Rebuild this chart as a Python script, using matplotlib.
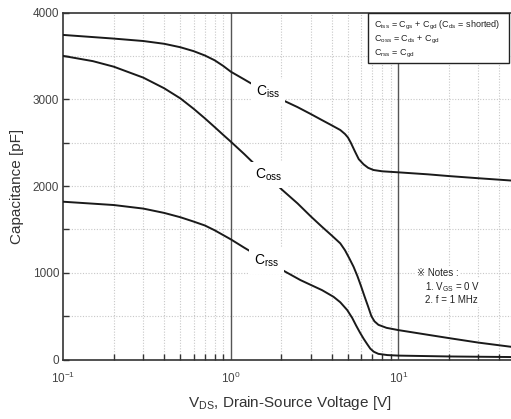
import matplotlib
matplotlib.use("Agg")
import matplotlib.pyplot as plt
from matplotlib.patches import Rectangle
from matplotlib.ticker import FixedLocator, NullFormatter

plt.rcParams['font.family'] = ['Liberation Sans', 'DejaVu Sans']
plt.rcParams['mathtext.default'] = 'regular'

# Capacitance vs. drain-source voltage
ciss_v = [0.1, 0.2, 0.3, 0.4, 0.5, 0.6, 0.7, 0.8, 0.9, 1.0, 1.2, 1.37, 2.03, 2.5, 3.0, 3.5,
          4.0, 4.5, 4.8, 5.0, 5.2, 5.5, 5.8, 6.2, 6.6, 7.1, 8.0, 10, 15, 20, 30, 50]
ciss_c = [3742, 3700, 3672, 3640, 3600, 3555, 3505, 3450, 3385, 3318, 3230, 3165, 2992, 2910, 2830, 2760,
          2700, 2646, 2600, 2560, 2500, 2400, 2310, 2250, 2210, 2185, 2170, 2158, 2135, 2115, 2090, 2060]

coss_v = [0.1, 0.15, 0.2, 0.3, 0.4, 0.5, 0.6, 0.7, 0.8, 0.9, 1.0, 1.2, 1.37, 2.03, 2.5, 3.0, 3.5,
          4.0, 4.5, 4.8, 5.1, 5.4, 5.7, 6.0, 6.3, 6.6, 6.9, 7.2, 7.6, 8.5, 10, 15, 20, 30, 50]
coss_c = [3500, 3440, 3376, 3250, 3127, 3010, 2890, 2780, 2680, 2590, 2511, 2370, 2262, 1954, 1800, 1650, 1530,
          1430, 1339, 1260, 1165, 1070, 960, 840, 720, 610, 500, 440, 400, 365, 339, 285, 247, 195, 140]

crss_v = [0.1, 0.2, 0.3, 0.4, 0.5, 0.6, 0.7, 0.8, 1.0, 1.2, 1.37, 2.03, 2.6, 3.0, 3.5, 4.1, 4.5,
          4.95, 5.3, 5.6, 5.9, 6.2, 6.5, 6.8, 7.14, 7.6, 8.6, 10, 20, 50]
crss_c = [1819, 1781, 1740, 1690, 1640, 1590, 1545, 1490, 1385, 1290, 1224, 1031, 916, 860, 800, 723, 660,
          570, 480, 390, 310, 240, 180, 125, 89, 65, 51, 45, 35, 28]

# curve labels: (text, voltage, capacitance)
curve_labels = [("C$_{iss}$", 1.66, 3084), ("C$_{oss}$", 1.68, 2127), ("C$_{rss}$", 1.63, 1135)]

legend_lines = ["C$_{iss}$ = C$_{gs}$ + C$_{gd}$ (C$_{ds}$ = shorted)",
                "C$_{oss}$ = C$_{ds}$ + C$_{gd}$",
                "C$_{rss}$ = C$_{gd}$"]
notes_lines = ["\u203b Notes :", "1. V$_{GS}$ = 0 V", "2. f = 1 MHz"]

fig = plt.figure(figsize=(5.11, 4.19), dpi=100)
ax = fig.add_axes([0.124, 0.142, 0.8847, 0.828])

for v, c in [(ciss_v, ciss_c), (coss_v, coss_c), (crss_v, crss_c)]:
    ax.plot(v, c, color='#1a1a1a', lw=1.4, zorder=3)

for txt, v, c in curve_labels:
    ax.text(v, c, txt, fontsize=10, ha='center', va='center', zorder=4,
            bbox=dict(boxstyle='square,pad=0.35', fc='white', ec='none'))

ax.set_xscale('log')
ax.set_xlim(0.1, 50)
ax.set_ylim(0, 4000)

# grid
minor_x = [m * 10.0 ** e for e in (-1, 0, 1) for m in range(2, 10) if m * 10.0 ** e < 50]
for x in minor_x:
    ax.axvline(x, color='#c8c8c8', lw=0.8, ls=(0, (1, 1.5)), zorder=1)
for x in [1, 10]:
    ax.axvline(x, color='#555555', lw=1.0, zorder=2)
for y in range(500, 4000, 500):
    ax.axhline(y, color='#c8c8c8', lw=0.8, ls=(0, (1, 1.5)), zorder=1)

ax.xaxis.set_major_locator(FixedLocator([0.1, 1, 10]))
ax.xaxis.set_minor_locator(FixedLocator(minor_x))
ax.xaxis.set_minor_formatter(NullFormatter())
ax.set_yticks([0, 1000, 2000, 3000, 4000])
ax.yaxis.set_minor_locator(FixedLocator([500, 1500, 2500, 3500]))
ax.tick_params(axis='both', which='both', direction='in', colors='#333333',
               labelcolor='#444444', labelsize=8.5)
ax.tick_params(axis='x', which='major', length=0, pad=8)
ax.tick_params(axis='x', which='minor', length=4, width=1)
ax.tick_params(axis='y', which='both', length=4, width=1, pad=3)

for s in ax.spines.values():
    s.set_color('#333333')
    s.set_linewidth(1.2)

ax.set_xlabel("V$_{DS}$, Drain-Source Voltage [V]", fontsize=11, color='#333333', labelpad=6)
ax.set_ylabel("Capacitance [pF]", fontsize=11, color='#333333', labelpad=6)

# formula box
ax.add_patch(Rectangle((0.674, 0.855), 0.312, 0.145, transform=ax.transAxes,
                       fc='white', ec='#222222', lw=1.0, zorder=5))
for i, line in enumerate(legend_lines):
    ax.text(0.687, 0.962 - i * 0.04, line, transform=ax.transAxes, fontsize=6.5,
            va='center', ha='left', color='#222222', zorder=6)

# notes
ax.text(0.782, 0.249, notes_lines[0], transform=ax.transAxes, fontsize=7,
        va='center', ha='left', color='#222222', zorder=6,
        bbox=dict(boxstyle='square,pad=0.2', fc='white', ec='none'))
for i, line in enumerate(notes_lines[1:]):
    ax.text(0.80, 0.209 - i * 0.038, line, transform=ax.transAxes, fontsize=7,
            va='center', ha='left', color='#222222', zorder=6,
            bbox=dict(boxstyle='square,pad=0.2', fc='white', ec='none'))

fig.savefig("out.png", dpi=100)
